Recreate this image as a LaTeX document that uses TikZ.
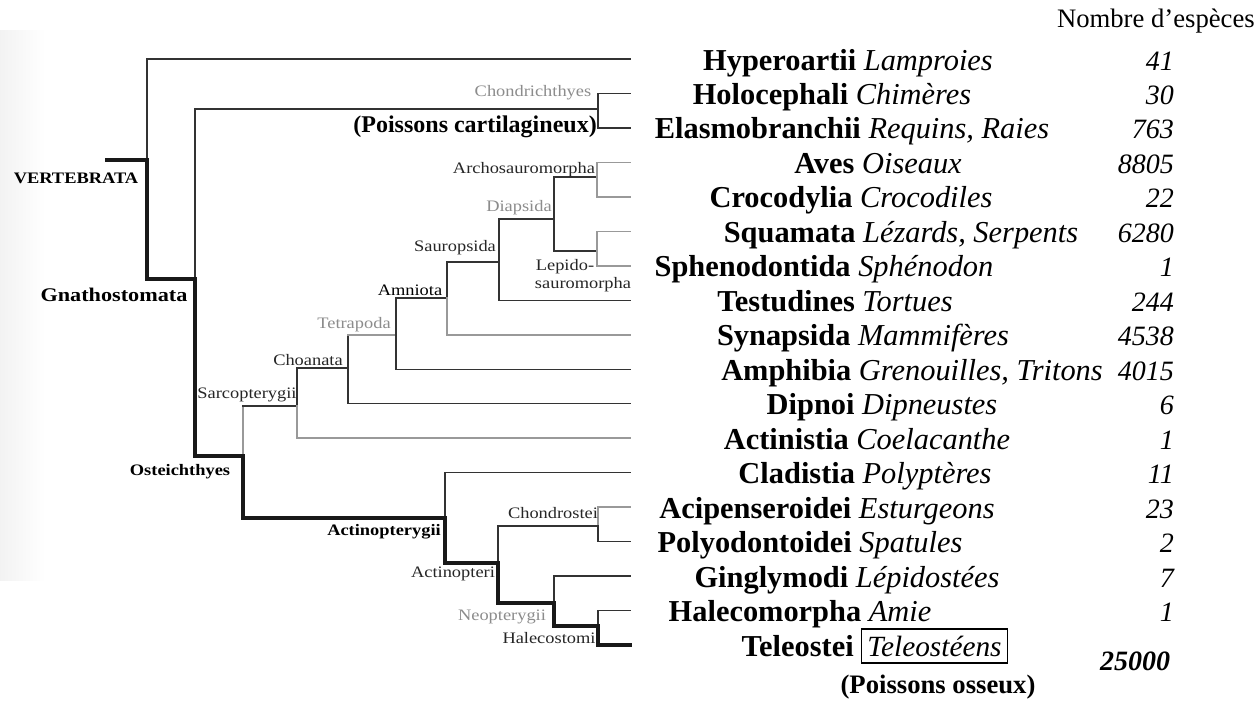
\documentclass[tikz,border=0pt]{standalone}
\usepackage{fontspec}
\usepackage{graphicx}
\setmainfont{Liberation Serif}
\newcommand{\hsq}[1]{\scalebox{1.15}[1]{#1}}
\begin{document}
\begin{tikzpicture}[x=0.75pt,y=-0.75pt,
  br/.style={draw=black!80, line width=1.1pt, line cap=rect},
  thk/.style={draw=black!90, line width=2.6pt, line cap=rect},
  gbr/.style={draw=black!40, line width=1.1pt, line cap=rect},
  lab/.style={font=\fontsize{12}{14}\selectfont, inner sep=0pt, text=black!85},
  glab/.style={lab, text=black!45},
  blab/.style={font=\fontsize{12}{14}\selectfont\bfseries, inner sep=0pt},
  rowtxt/.style={font=\fontsize{22.8}{26}\selectfont, inner sep=0pt, anchor=base},
  numtxt/.style={font=\fontsize{21}{24}\selectfont\itshape, inner sep=0pt, anchor=base east},
  bigb/.style={font=\fontsize{18}{22}\selectfont\bfseries, inner sep=0pt}]
\useasboundingbox (0,0) rectangle (1259,701);
\fill[white] (0,0) rectangle (1259,701);
\shade[left color=black!5, right color=white] (0,30) rectangle (45,580);

% leaves
\foreach \r in {0,...,17} \coordinate (l\r) at (630,{59+34.47*\r});
% internal nodes
\coordinate (V0) at (107,160);
\coordinate (V) at (147,160);
\coordinate (G) at (195,279);
\coordinate (C) at (598,109);
\coordinate (O) at (243,456);
\coordinate (S) at (297,406);
\coordinate (Ch) at (348,368);
\coordinate (T) at (396,335);
\coordinate (Am) at (447,298);
\coordinate (Sa) at (499,262);
\coordinate (D) at (554,219);
\coordinate (Ar) at (597,177);
\coordinate (Le) at (597,251);
\coordinate (A) at (445,518);
\coordinate (Ap) at (498,563);
\coordinate (Co) at (598,526);
\coordinate (N) at (554,603);
\coordinate (H) at (598,626);

% branches
\draw[thk] (V0) -- (V);
\draw[br] (V) |- (l0);
\draw[thk] (V) |- (G);
\draw[br] (G) |- (C);
\draw[thk] (G) |- (O);
\draw[br] (C) |- (l1);
\draw[br] (C) |- (l2);
\draw[gbr] (O) -- (O|-S);
\draw[br] (O|-S) -- (S);
\draw[thk] (O) |- (A);
\draw[br] (S) -- (S|-Ch) -- (Ch);
\draw[gbr] (S) |- (l11);
\draw[br] (Ch) -- (Ch|-T);
\draw[gbr] (Ch|-T) -- (T);
\draw[br] (Ch) |- (l10);
\draw[br] (T) |- (Am);
\draw[br] (T) |- (l9);
\draw[br] (Am) |- (Sa);
\draw[gbr] (Am) |- (l8);
\draw[br] (Sa) |- (D);
\draw[br] (Sa) |- (l7);
\draw[br] (D) |- (Ar);
\draw[br] (D) |- (Le);
\draw[gbr] (Ar) |- (l3);
\draw[gbr] (Ar) |- (l4);
\draw[gbr] (Le) |- (l5);
\draw[gbr] (Le) |- (l6);
\draw[br] (A) |- (l12);
\draw[thk] (A) |- (Ap);
\draw[br] (Ap) |- (Co);
\draw[thk] (Ap) |- (N);
\draw[gbr] (Co) |- (l13);
\draw[br] (Co) |- (l14);
\draw[br] (N) |- (l15);
\draw[thk] (N) |- (H);
\draw[br] (H) |- (l16);
\draw[thk] (H) |- (l17);

% clade labels
\node[blab] (vert) at (76,178) {\hsq{VERTEBRATA}};
\node[blab, font=\fontsize{14.5}{16}\selectfont\bfseries] (gnat) at (114,295) {\hsq{Gnathostomata}};
\node[blab] (oste) at (180,472) {\hsq{Osteichthyes}};
\node[lab] (sarc) at (247,395) {\hsq{Sarcopterygii}};
\node[lab] (choa) at (308,360) {\hsq{Choanata}};
\node[glab] (tetr) at (354,325) {\hsq{Tetrapoda}};
\node[lab, text=black] (amni) at (410,290) {\hsq{Amniota}};
\node[lab] (saur) at (455,248) {\hsq{Sauropsida}};
\node[glab] (diap) at (519,208) {\hsq{Diapsida}};
\node[lab] (arch) at (524,170) {\hsq{Archosauromorpha}};
\node[lab] (lep1) at (565,267) {\hsq{Lepido-}};
\node[lab] (lep2) at (583,285) {\hsq{sauromorpha}};
\node[glab] (chon) at (533,93) {\hsq{Chondrichthyes}};
\node[bigb, anchor=east] (pcar) at (597,127) {(Poissons cartilagineux)};
\node[lab] (cstei) at (553,513) {\hsq{Chondrostei}};
\node[blab, anchor=east] (actg) at (441,532) {\hsq{Actinopterygii}};
\node[lab] (actp) at (453,574) {\hsq{Actinopteri}};
\node[glab] (neop) at (502,617) {\hsq{Neopterygii}};
\node[lab] (halc) at (549,638) {\hsq{Halecostomi}};

% right column
\node[font=\fontsize{20}{24}\selectfont, inner sep=0pt, anchor=base east] (nbr) at (1255,27) {Nombre d’espèces};
\foreach \r/\cx/\nm/\cm/\nb in {
  0/848/Hyperoartii/Lamproies/41,
  1/832/Holocephali/Chimères/30,
  2/852/Elasmobranchii/{Requins, Raies}/763,
  3/878/Aves/Oiseaux/8805,
  4/851/Crocodylia/Crocodiles/22,
  5/901/Squamata/{Lézards, Serpents}/6280,
  6/824/Sphenodontida/Sphénodon/1,
  7/835/Testudines/Tortues/244,
  8/863/Synapsida/Mammifères/4538,
  9/912/Amphibia/{Grenouilles, Tritons}/4015,
  10/882/Dipnoi/Dipneustes/6,
  11/867/Actinistia/Coelacanthe/1,
  12/865/Cladistia/Polyptères/11,
  13/827/Acipenseroidei/Esturgeons/23,
  14/810/Polyodontoidei/Spatules/2,
  15/847/Ginglymodi/Lépidostées/7,
  16/800/Halecomorpha/Amie/1}{
  \node[rowtxt] (t\r) at (\cx,{59+34.47*\r+11}) {\textbf{\nm} \textit{\cm}};
  \node[numtxt] (n\r) at (1174,{59+34.47*\r+11}) {\nb};
}
\node[rowtxt, anchor=base east] (t17) at (854,{59+34.47*17+11}) {\textbf{Teleostei}};
\node[draw, line width=0.9pt, inner sep=0pt, minimum width=110pt, minimum height=25.5pt,
  font=\fontsize{22}{24}\selectfont\itshape] (tbox) at (934.5,646) {Teleostéens};
\node[font=\fontsize{21}{24}\selectfont\bfseries\itshape, inner sep=0pt] (n17) at (1135,661) {25000};
\node[bigb, font=\fontsize{20}{24}\selectfont\bfseries] (poss) at (938,687) {(Poissons osseux)};
\end{tikzpicture}
\end{document}
